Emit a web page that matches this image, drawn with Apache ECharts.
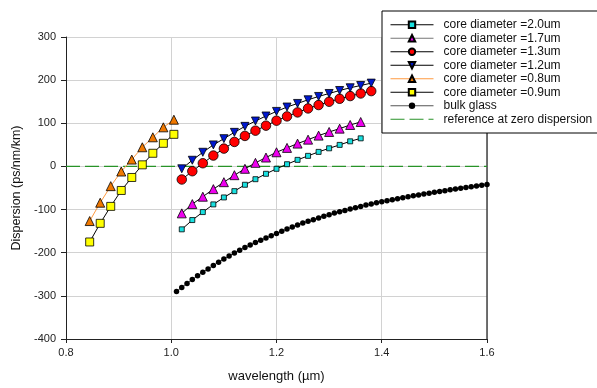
<!DOCTYPE html>
<html>
<head>
<meta charset="utf-8">
<script src="https://cdn.jsdelivr.net/npm/echarts@6/dist/echarts.min.js"></script>
<style>html,body{margin:0;padding:0;background:#fff;}#c{width:597px;height:388px;}</style>
</head>
<body>
<div id="c"></div>
<script>
// wavelengths (um)
var lambdaShort = [0.845, 0.865, 0.885, 0.905, 0.925, 0.945, 0.965, 0.985, 1.005];
var lambdaLong = [1.02, 1.04, 1.06, 1.08, 1.10, 1.12, 1.14, 1.16, 1.18, 1.20, 1.22, 1.24, 1.26, 1.28, 1.30, 1.32, 1.34, 1.36, 1.38];
var lambdaBulk = [1.01, 1.02, 1.03, 1.04, 1.05, 1.06, 1.07, 1.08, 1.09, 1.10,
  1.11, 1.12, 1.13, 1.14, 1.15, 1.16, 1.17, 1.18, 1.19, 1.20,
  1.21, 1.22, 1.23, 1.24, 1.25, 1.26, 1.27, 1.28, 1.29, 1.30,
  1.31, 1.32, 1.33, 1.34, 1.35, 1.36, 1.37, 1.38, 1.39, 1.40,
  1.41, 1.42, 1.43, 1.44, 1.45, 1.46, 1.47, 1.48, 1.49, 1.50,
  1.51, 1.52, 1.53, 1.54, 1.55, 1.56, 1.57, 1.58, 1.59, 1.60];
var refX = [0.8, 1.6];
// dispersion (ps/nm/km)
var d20 = [-145.8, -124.3, -105.8, -88.0, -71.9, -57.3, -42.5, -29.6, -17.1, -5.5, 5.1, 15.2, 24.5, 33.7, 42.0, 49.9, 58.2, 65.1];
var d17 = [-108.8, -87.3, -70.2, -52.6, -36.5, -20.3, -5.5, 8.3, 20.6, 32.8, 43.0, 52.9, 62.1, 71.4, 79.9, 87.6, 96.1, 103.0];
var d13 = [-30.3, -11.1, 7.4, 25.2, 41.3, 56.8, 70.7, 82.9, 94.5, 106.0, 116.0, 125.2, 134.4, 142.3, 149.9, 156.8, 163.1, 169.1, 174.6];
var d12 = [-5.5, 14.3, 32.8, 49.9, 64.4, 79.0, 92.9, 105.3, 116.9, 127.5, 137.7, 146.0, 154.5, 162.2, 169.1, 176.0, 182.3, 187.6, 193.1];
var d08 = [-126.6, -84.1, -45.7, -11.8, 15.9, 44.4, 67.5, 90.6, 108.3];
var d09 = [-175.1, -131.9, -92.6, -55.7, -25.6, 3.7, 30.5, 53.6, 74.4];
var dBulk = [-289.7, -280.4, -271.2, -262.0, -253.6, -245.1, -237.5, -229.6, -222.0, -214.4,
  -207.4, -200.5, -194.3, -188.0, -182.0, -176.5, -171.2, -165.9, -160.4, -155.7,
  -150.3, -145.1, -140.4, -135.8, -131.2, -127.3, -123.4, -119.7, -115.7, -111.8,
  -108.1, -104.9, -101.9, -98.9, -95.6, -92.6, -89.6, -87.3, -84.1, -81.8,
  -79.5, -77.1, -74.8, -72.5, -70.3, -68.1, -66.0, -63.9, -61.9, -59.9,
  -58.0, -56.1, -54.2, -52.4, -50.6, -48.9, -47.2, -45.5, -43.9, -42.0];
var dRef = [0, 0];
var names = ['core diameter =2.0um', 'core diameter =1.7um', 'core diameter =1.3um', 'core diameter =1.2um',
  'core diameter =0.8um', 'core diameter =0.9um', 'bulk glass', 'reference at zero dispersion'];

function pairs(xs, ys) { return ys.map(function (v, i) { return [xs[i], v]; }); }

var font = 'Liberation Sans, Arial, sans-serif';
var chart = echarts.init(document.getElementById('c'), null, { renderer: 'canvas' });

function mk(name, xs, ys, sym, size, fill, lineColor, extra) {
  var s = {
    name: name, type: 'line', data: pairs(xs, ys),
    symbol: sym, symbolSize: size, showSymbol: true,
    itemStyle: { color: fill, borderColor: '#000', borderWidth: 0.8, opacity: 1 },
    lineStyle: { color: lineColor, width: 1 },
    emphasis: { disabled: true }, animation: false, z: 3
  };
  for (var k in extra) s[k] = extra[k];
  return s;
}

var series = [
  mk(names[0], lambdaLong, d20, 'rect', 5, '#19e0e0', '#000', {}),
  mk(names[1], lambdaLong, d17, 'triangle', 9, '#ee00ee', '#000', {}),
  mk(names[2], lambdaLong, d13, 'circle', 9.5, '#ff0000', '#000', {}),
  mk(names[3], lambdaLong, d12, 'triangle', 8, '#0018d0', '#000', { symbolRotate: 180 }),
  mk(names[4], lambdaShort, d08, 'triangle', 9, '#f07800', '#ff9a40', {}),
  mk(names[5], lambdaShort, d09, 'rect', 8, '#ffff00', '#000', {}),
  mk(names[6], lambdaBulk, dBulk, 'circle', 5.5, '#000', '#555', {}),
  {
    name: names[7], type: 'line', data: pairs(refX, dRef), symbol: 'none',
    itemStyle: { color: '#289328' },
    lineStyle: { color: '#289328', width: 1.2, type: [14, 5] },
    emphasis: { disabled: true }, animation: false, z: 2
  }
];
series[6].itemStyle.borderWidth = 0;

chart.setOption({
  animation: false,
  backgroundColor: '#fff',
  grid: { left: 66, right: 110, top: 37, bottom: 48, containLabel: false },
  xAxis: {
    type: 'value', min: 0.8, max: 1.6, interval: 0.2,
    name: 'wavelength (\u00b5m)', nameLocation: 'middle', nameGap: 31,
    nameTextStyle: { fontFamily: font, fontSize: 13, color: '#111' },
    axisLine: { show: true, onZero: false, lineStyle: { color: '#222', width: 1 } },
    axisTick: { show: true, inside: false, length: 4, lineStyle: { color: '#222' } },
    axisLabel: { fontFamily: font, fontSize: 11, color: '#222', margin: 8,
      formatter: function (v) { return v.toFixed(1); } },
    splitLine: { show: true, lineStyle: { color: '#d2d2d2', width: 1 } }
  },
  yAxis: [{
    type: 'value', min: -400, max: 300, interval: 100,
    name: 'Dispersion (ps/nm/km)', nameLocation: 'middle', nameGap: 41, nameRotate: 90,
    nameTextStyle: { fontFamily: font, fontSize: 12.5, color: '#111' },
    axisLine: { show: true, onZero: false, lineStyle: { color: '#222', width: 1 } },
    axisTick: { show: true, inside: false, length: 5, lineStyle: { color: '#222' } },
    axisLabel: { fontFamily: font, fontSize: 11, color: '#222', margin: 10 },
    splitLine: { show: true, lineStyle: { color: '#d2d2d2', width: 1 } }
  }, {
    type: 'value', min: -400, max: 300, interval: 100, position: 'right',
    axisLine: { show: true, lineStyle: { color: '#444', width: 1.5 } },
    axisTick: { show: false }, axisLabel: { show: false }, splitLine: { show: false }
  }],
  legend: {
    show: true, orient: 'vertical', left: 390, top: 18, padding: 0,
    itemWidth: 43, itemHeight: 8, itemGap: 0, z: 10,
    selectedMode: false,
    lineStyle: { width: 1 },
    textStyle: { fontFamily: font, fontSize: 12, color: '#111', lineHeight: 13.5, padding: [0, 0, 0, 5] },
    data: [
      { name: names[0] }, { name: names[1], lineStyle: { color: '#777' } }, { name: names[2] }, { name: names[3] },
      { name: names[4] }, { name: names[5] }, { name: names[6] },
      { name: names[7], itemStyle: { opacity: 0, borderWidth: 0 } }
    ]
  },
  graphic: [{
    type: 'rect', z: 8, silent: true,
    shape: { x: 382, y: 11, width: 240, height: 122 },
    style: { fill: '#fff', stroke: '#000', lineWidth: 1 }
  }],
  series: series
});
</script>
</body>
</html>
